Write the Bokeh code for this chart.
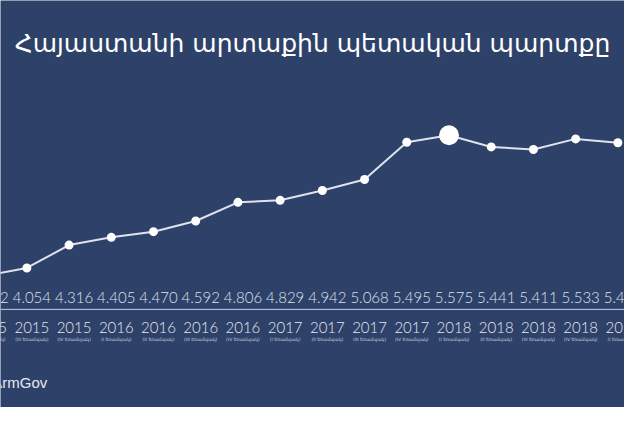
from bokeh.plotting import figure
from bokeh.models import Range1d, Span, ColumnDataSource
from bokeh.core.properties import value
from bokeh.embed import file_html
from bokeh.resources import INLINE

title = "Հայաստանի արտաքին պետական պարտքը"
years = ["2015", "2015", "2015", "2016", "2016", "2016", "2016", "2017",
         "2017", "2017", "2017", "2018", "2018", "2018", "2018", "2019"]
quarters = ["II", "III", "IV", "I", "II", "III", "IV", "I",
            "II", "III", "IV", "I", "II", "III", "IV", "I"]
debt = [3.962, 4.054, 4.316, 4.405, 4.470, 4.592, 4.806, 4.829,
        4.942, 5.068, 5.495, 5.575, 5.441, 5.411, 5.533, 5.489]
source_text = "@ArmGov"

BG = "#2e4169"
W, H = 624, 407

idx = list(range(len(debt)))
peak = max(debt)
sizes = [20 if v == peak else 9 for v in debt]

src = ColumnDataSource(dict(
    x=idx, y=debt, size=sizes,
    vlab=[f"{v:.3f}" for v in debt],
    year=years,
    quarter=[f"({q} եռամսյակ)" for q in quarters],
))

p = figure(width=W, height=H,
           x_range=Range1d(0.376, 15.157), y_range=Range1d(2.455, 7.119),
           output_backend="svg", toolbar_location=None,
           x_axis_type=None, y_axis_type=None, min_border=0)
p.extra_x_ranges = {"px": Range1d(0, 640)}
p.extra_y_ranges = {"px": Range1d(423, 0)}
p.background_fill_color = BG
p.border_fill_color = BG
p.outline_line_color = None
p.xgrid.visible = False
p.ygrid.visible = False

p.line("x", "y", source=src, line_color="#dfe3ec", line_width=2)
p.scatter("x", "y", source=src, size="size", fill_color="white",
          line_color=None)

# baseline under the values
p.add_layout(Span(location=321, dimension="width", y_range_name="px",
                  line_color="#c9d0df", line_width=1))

num_font = value("Lato Light")
p.text(x="x", y=309, text="vlab", source=src, y_range_name="px",
       x_offset=5, text_align="center", text_baseline="middle",
       text_font=num_font, text_font_size="15px", text_color="#dfe3ec")
p.text(x="x", y=340, text="year", source=src, y_range_name="px",
       x_offset=5, text_align="center", text_baseline="middle",
       text_font=num_font, text_font_size="15px", text_color="#e6e9f0")
p.text(x="x", y=352, text="quarter", source=src, y_range_name="px",
       x_offset=5, text_align="center", text_baseline="middle",
       text_font=value("DejaVu Sans"), text_font_size="4.5px",
       text_color="#c9d0df")

p.text(x=[320], y=[45], text=[title], x_range_name="px", y_range_name="px",
       text_align="center", text_baseline="middle",
       text_font=value("DejaVu Sans"), text_font_size="25px",
       text_color="white")

p.text(x=[48], y=[397], text=[source_text], x_range_name="px",
       y_range_name="px", text_align="right", text_baseline="middle",
       text_font=value("Liberation Sans"), text_font_size="15px",
       text_color="#e6e9f0")

open("out.html", "w").write(file_html(p, INLINE))
